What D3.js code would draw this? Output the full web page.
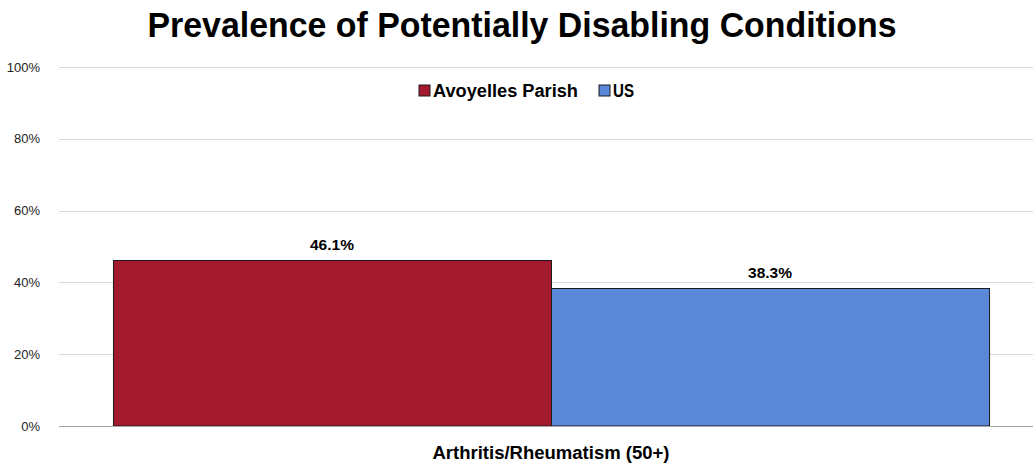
<!DOCTYPE html>
<html>
<head>
<meta charset="utf-8">
<script src="https://cdn.jsdelivr.net/npm/d3@7"></script>
<style>
  body { margin: 0; background: #fff; }
  svg { font-family: "Liberation Sans", Arial, sans-serif; }
</style>
</head>
<body>
<svg id="chart"></svg>
<script>
/////////////// data ////////////////
const CATEGORIES = ["Arthritis/Rheumatism (50+)"];
const SERIES = ["Avoyelles Parish", "US"];
const VALUES = [[46.1, 38.3]];
const Y_TICKS = [0, 20, 40, 60, 80, 100];
const COLORS = ["#A31A2E", "#5B87D8"];

/////////////// layout ////////////////
const W = 1033;
const H = 467;
const PLOT_L = 59;
const PLOT_R = 1043;
const PLOT_T = 67;
const PLOT_B = 426;

const SVG = d3.select("#chart")
    .attr("width", W)
    .attr("height", H);

const SCL_X = d3.scaleBand()
    .domain(CATEGORIES)
    .range([PLOT_L, PLOT_R])
    .paddingInner(0)
    .paddingOuter(0.0616);
const SCL_SUB = d3.scaleBand()
    .domain(SERIES)
    .range([0, SCL_X.bandwidth()]);
const SCL_Y = d3.scaleLinear()
    .domain([0, 100])
    .range([PLOT_B, PLOT_T]);

// title
SVG.append("text")
    .attr("x", 522)
    .attr("y", 37)
    .attr("text-anchor", "middle")
    .attr("font-size", 35)
    .attr("font-weight", "bold")
    .attr("fill", "#000")
    .attr("textLength", 749)
    .attr("lengthAdjust", "spacingAndGlyphs")
    .text("Prevalence of Potentially Disabling Conditions");

// gridlines
SVG.append("g")
    .selectAll("line")
    .data(Y_TICKS.filter(d => d > 0))
    .enter()
    .append("line")
    .attr("x1", PLOT_L)
    .attr("x2", W)
    .attr("y1", d => Math.round(SCL_Y(d)) + 0.5)
    .attr("y2", d => Math.round(SCL_Y(d)) + 0.5)
    .attr("stroke", "#d9d9d9")
    .attr("stroke-width", 1);

// y axis labels
const Y_AXIS = SVG.append("g")
    .attr("transform", `translate(${PLOT_L - 16}, 0)`)
    .call(d3.axisLeft(SCL_Y).tickValues(Y_TICKS).tickFormat(d => d + "%").tickSize(0));
Y_AXIS.select(".domain").remove();
Y_AXIS.selectAll("text")
    .attr("font-size", 13)
    .attr("font-family", "\"Liberation Sans\", Arial, sans-serif")
    .attr("fill", "#222");

// bars
const BAR_DATA = [];
CATEGORIES.forEach((c, i) => {
    SERIES.forEach((s, j) => {
        BAR_DATA.push({ cat: c, series: s, value: VALUES[i][j], idx: j });
    });
});
const BAR_GRP = SVG.append("g");
BAR_GRP.selectAll("rect")
    .data(BAR_DATA)
    .enter()
    .append("rect")
    .attr("x", d => SCL_X(d.cat) + SCL_SUB(d.series) + 0.5)
    .attr("y", d => SCL_Y(d.value))
    .attr("width", SCL_SUB.bandwidth())
    .attr("height", d => PLOT_B - SCL_Y(d.value))
    .attr("fill", d => COLORS[d.idx])
    .attr("stroke", "#1a1a1a")
    .attr("stroke-width", 1);

// value labels
BAR_GRP.selectAll("text")
    .data(BAR_DATA)
    .enter()
    .append("text")
    .attr("x", d => SCL_X(d.cat) + SCL_SUB(d.series) + SCL_SUB.bandwidth() / 2)
    .attr("y", d => SCL_Y(d.value) - 11)
    .attr("text-anchor", "middle")
    .attr("font-size", 15.5)
    .attr("font-weight", "bold")
    .attr("fill", "#000")
    .text(d => d.value.toFixed(1) + "%");

// baseline
SVG.append("line")
    .attr("x1", PLOT_L)
    .attr("x2", W)
    .attr("y1", PLOT_B + 0.5)
    .attr("y2", PLOT_B + 0.5)
    .attr("stroke", "#a6a6a6")
    .attr("stroke-width", 1);

// x axis labels
SVG.append("g")
    .selectAll("text")
    .data(CATEGORIES)
    .enter()
    .append("text")
    .attr("x", d => SCL_X(d) + SCL_X.bandwidth() / 2)
    .attr("y", 459)
    .attr("text-anchor", "middle")
    .attr("font-size", 18)
    .attr("font-weight", "bold")
    .attr("fill", "#000")
    .attr("textLength", 237)
    .attr("lengthAdjust", "spacingAndGlyphs")
    .text(d => d);

// legend
const LEG_X = [419, 599];
const LEG_W = [145, 21];
const LEGEND = SVG.append("g")
    .selectAll("g")
    .data(SERIES)
    .enter()
    .append("g")
    .attr("transform", (d, i) => `translate(${LEG_X[i]}, 85)`);
LEGEND.append("rect")
    .attr("width", 11)
    .attr("height", 11)
    .attr("fill", (d, i) => COLORS[i])
    .attr("stroke", "#1a1a1a")
    .attr("stroke-width", 1);
LEGEND.append("text")
    .attr("x", 14)
    .attr("y", 12)
    .attr("font-size", 17.5)
    .attr("font-weight", "bold")
    .attr("fill", "#000")
    .attr("textLength", (d, i) => LEG_W[i])
    .attr("lengthAdjust", "spacingAndGlyphs")
    .text(d => d);
</script>
</body>
</html>
